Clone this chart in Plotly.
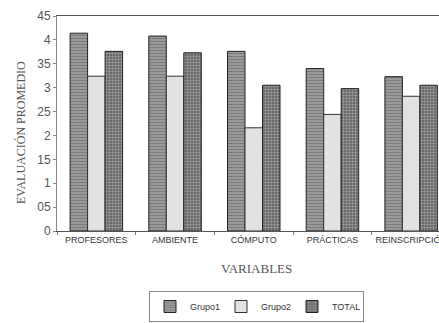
import plotly.graph_objects as go

# Survey averages by variable and group
categories = ["PROFESORES", "AMBIENTE", "CÓMPUTO", "PRÁCTICAS", "REINSCRIPCIÓN"]
grupo1 = [4.14, 4.08, 3.76, 3.40, 3.23]
grupo2 = [3.24, 3.24, 2.16, 2.44, 2.82]
total = [3.76, 3.73, 3.05, 2.98, 3.05]

y_tickvals = [0, 0.5, 1, 1.5, 2, 2.5, 3, 3.5, 4, 4.5]
y_ticktext = ["0", "05", "1", "15", "2", "25", "3", "35", "4", "45"]

W, H = 439, 323
ML, MR, MT, MB = 57, 0, 16, 92

fig = go.Figure()
fig.add_trace(go.Bar(
    name="Grupo1", x=categories, y=grupo1,
    marker=dict(color="#9a9a9a", line=dict(color="#222", width=1),
                pattern=dict(shape="-", fgcolor="#555", bgcolor="#a0a0a0",
                             size=3, solidity=0.45)),
))
fig.add_trace(go.Bar(
    name="Grupo2", x=categories, y=grupo2,
    marker=dict(color="#e2e2e2", line=dict(color="#333", width=1)),
))
fig.add_trace(go.Bar(
    name="TOTAL", x=categories, y=total,
    marker=dict(color="#777", line=dict(color="#222", width=1),
                pattern=dict(shape=".", fgcolor="#e0e0e0", bgcolor="#5a5a5a",
                             size=3, solidity=0.5)),
))

plot_w = W - ML - MR
plot_h = H - MT - MB

fig.update_layout(
    width=W, height=H,
    margin=dict(l=ML, r=MR, t=MT, b=MB, pad=0),
    paper_bgcolor="white", plot_bgcolor="white",
    barmode="group", bargap=0.333, bargroupgap=0,
    font=dict(family="Liberation Sans, Arial, sans-serif", color="#444"),
    showlegend=True,
    legend=dict(
        orientation="h", x=(256.5 - ML) / plot_w, xanchor="center",
        y=-(322 - (H - MB)) / plot_h, yanchor="bottom",
        bordercolor="#888", borderwidth=1, bgcolor="white",
        font=dict(size=9, color="#333"),
        itemwidth=30, entrywidth=26, entrywidthmode="pixels",
        traceorder="normal",
    ),
    xaxis=dict(
        range=[-0.5, -0.5 + 5 * plot_w / 393.5],
        tickson="boundaries", ticks="outside", ticklen=3, tickcolor="#777",
        showline=True, linecolor="#555", linewidth=1, mirror=True,
        tickfont=dict(size=9, color="#333"),
        showgrid=False, automargin=False,
    ),
    yaxis=dict(
        range=[0, 4.5], tickvals=y_tickvals, ticktext=y_ticktext,
        ticks="outside", ticklen=3, tickcolor="#888",
        showline=True, linecolor="#888", linewidth=1, mirror=True,
        tickfont=dict(size=12, color="#555"),
        showgrid=False, zeroline=False, automargin=False,
    ),
    annotations=[
        dict(text="EVALUACIÓN PROMEDIO", textangle=-90,
             xref="paper", yref="paper",
             x=(21 - ML) / plot_w, y=(H - MB - 133) / plot_h,
             xanchor="center", yanchor="middle", showarrow=False,
             font=dict(family="Liberation Serif, Times New Roman, serif",
                       size=12, color="#555")),
        dict(text="VARIABLES",
             xref="paper", yref="paper",
             x=(256.5 - ML) / plot_w, y=-(268 - (H - MB)) / plot_h,
             xanchor="center", yanchor="middle", showarrow=False,
             font=dict(family="Liberation Serif, Times New Roman, serif",
                       size=13, color="#555")),
    ],
)

fig.write_html("out.html")
